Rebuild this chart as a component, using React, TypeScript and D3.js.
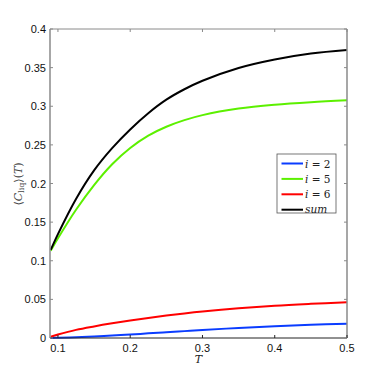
import React from 'react';
import * as d3 from 'd3';

// temperature grid
const temps = [0.09, 0.1, 0.125, 0.15, 0.175, 0.2, 0.225, 0.25, 0.275, 0.3, 0.35, 0.4, 0.45, 0.5];

// <C_liq>(T) per component
const liq2 = [0, 0.0003, 0.001, 0.002, 0.0033, 0.0045, 0.006, 0.0074, 0.0089, 0.0104, 0.013, 0.0153, 0.0171, 0.0185];
const liq5 = [0.113, 0.129, 0.166, 0.198, 0.225, 0.246, 0.262, 0.2735, 0.282, 0.2885, 0.297, 0.302, 0.3053, 0.3077];
const liq6 = [0.0017, 0.0045, 0.0105, 0.015, 0.019, 0.0226, 0.0259, 0.029, 0.0318, 0.0343, 0.0385, 0.0418, 0.0442, 0.0462];
const liqSum = [0.114, 0.1345, 0.18, 0.217, 0.2458, 0.27, 0.291, 0.3085, 0.322, 0.333, 0.3495, 0.3605, 0.3682, 0.3728];

const xTicks = [0.1, 0.2, 0.3, 0.4, 0.5];
const yTicks = [0, 0.05, 0.1, 0.15, 0.2, 0.25, 0.3, 0.35, 0.4];

const series = [
  { name: '2', values: liq2, color: '#0a3cff' },
  { name: '5', values: liq5, color: '#5cf000' },
  { name: '6', values: liq6, color: '#ff0000' },
  { name: 'sum', values: liqSum, color: '#000000' },
];

const App = () => {
  const width = 383;
  const height = 381;
  const margin = { top: 29, right: 36, bottom: 43, left: 50 };
  const innerW = width - margin.left - margin.right;
  const innerH = height - margin.top - margin.bottom;

  const x = d3.scaleLinear().domain([0.089, 0.5]).range([0, innerW]);
  const y = d3.scaleLinear().domain([0, 0.4]).range([innerH, 0]);

  const line = d3
    .line<number>()
    .x((d, i) => x(temps[i]))
    .y((d) => y(d))
    .curve(d3.curveCatmullRom.alpha(0.5));

  const tickFont = '"Liberation Sans", Arial, sans-serif';
  const texFont = '"DejaVu Serif", "Liberation Serif", serif';
  const frame = '#8a8a8a';

  // legend layout
  const lg = { x: 227, y: 125, w: 59, h: 59, row: 15.4 };

  return (
    <svg width={width} height={height} style={{ position: 'absolute', left: 0, top: 0 }}>
      <rect width={width} height={height} fill="#fff" />
      <g transform={`translate(${margin.left},${margin.top})`}>
        {/* curves */}
        {series.map((s) => (
          <path key={s.name} d={line(s.values) || ''} fill="none" stroke={s.color} strokeWidth={2} />
        ))}

        {/* frame */}
        <line x1={0} x2={innerW} y1={0} y2={0} stroke={frame} />
        <line x1={innerW} x2={innerW} y1={0} y2={innerH} stroke={frame} strokeWidth={1.5} />
        <line x1={0} x2={0} y1={0} y2={innerH} stroke={frame} strokeWidth={1.5} />
        <line x1={0} x2={innerW} y1={innerH} y2={innerH} stroke="#222" />

        {/* x ticks */}
        {xTicks.map((t) => (
          <g key={t}>
            <line x1={x(t)} x2={x(t)} y1={innerH} y2={innerH - 3} stroke="#222" />
            <line x1={x(t)} x2={x(t)} y1={0} y2={3} stroke={frame} />
            <text x={x(t)} y={innerH + 13.5} textAnchor="middle" fontSize={11} fontFamily={tickFont} fill="#111">
              {t}
            </text>
          </g>
        ))}

        {/* y ticks */}
        {yTicks.map((t) => (
          <g key={t}>
            <line x1={0} x2={3} y1={y(t)} y2={y(t)} stroke={frame} />
            <line x1={innerW} x2={innerW - 3} y1={y(t)} y2={y(t)} stroke={frame} />
            <text x={-4} y={y(t) + 4} textAnchor="end" fontSize={11} fontFamily={tickFont} fill="#111">
              {t}
            </text>
          </g>
        ))}

        {/* axis labels */}
        <text x={innerW / 2} y={innerH + 25} textAnchor="middle" fontSize={11} fontFamily={texFont} fontStyle="italic" fill="#222">
          T
        </text>
        <text
          transform={`translate(${-28},${155}) rotate(-90)`}
          textAnchor="middle"
          fontSize={11}
          fontFamily={texFont}
          fill="#444"
        >
          ⟨<tspan fontStyle="italic">C</tspan>
          <tspan fontSize={8} dy={2}>liq</tspan>
          <tspan dy={-2}>⟩(</tspan>
          <tspan fontStyle="italic">T</tspan>)
        </text>

        {/* legend */}
        <g transform={`translate(${lg.x},${lg.y})`}>
          <rect width={lg.w} height={lg.h} fill="#fff" stroke="#555" strokeWidth={0.8} />
          {series.map((s, i) => {
            const cy = 9.5 + i * lg.row;
            return (
              <g key={s.name}>
                <line x1={4.5} x2={26} y1={cy} y2={cy} stroke={s.color} strokeWidth={2} />
                {s.name === 'sum' ? (
                  <text x={28} y={cy + 3.5} fontSize={10.5} fontFamily={texFont} fontStyle="italic" fill="#222">
                    sum
                  </text>
                ) : (
                  <text x={28} y={cy + 4} fontSize={10.5} fontFamily={texFont} fill="#222">
                    <tspan fontStyle="italic">i</tspan> = {s.name}
                  </text>
                )}
              </g>
            );
          })}
        </g>
      </g>
    </svg>
  );
};

export default App;
